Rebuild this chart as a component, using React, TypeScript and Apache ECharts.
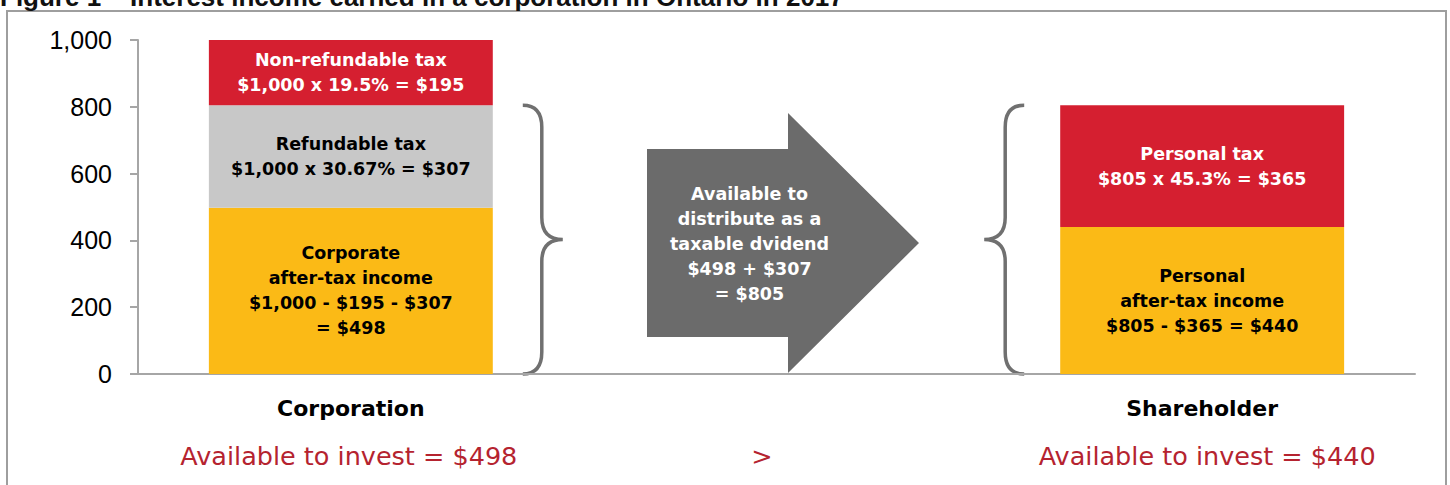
import React, { useEffect, useRef } from "react";
import * as echarts from "echarts";

const title = "Figure 1 – Interest income earned in a corporation in Ontario in 2017";
const categories = ["Corporation", "", "Shareholder"];
const afterTaxIncome = [498, null, 440];
const refundableTax = [307, null, null];
const incomeTax = [195, null, 365];
const afterTaxLabels = [
  "Corporate\nafter-tax income\n$1,000 - $195 - $307\n= $498",
  "",
  "Personal\nafter-tax income\n$805 - $365 = $440",
];
const refundableLabels = ["Refundable tax\n$1,000 x 30.67% = $307", "", ""];
const taxLabels = [
  "Non-refundable tax\n$1,000 x 19.5% = $195",
  "",
  "Personal tax\n$805 x 45.3% = $365",
];
const yTicks = [0, 200, 400, 600, 800, 1000];
const distributable = 805;
const arrowText = "Available to\ndistribute as a\ntaxable dvidend\n$498 + $307\n= $805";
const investLabels = ["Available to invest = $498", ">", "Available to invest = $440"];

const RED = "#D51F30";
const GRAY = "#C8C8C8";
const YELLOW = "#FBBA16";
const DARKRED = "#B5232F";
const LABEL_FONT = "DejaVu Sans";

function registerBrace(name: string, H: number, w1: number, w2: number, r: number) {
  const h = H / 2;
  const d = `M0,0 Q${w1},0 ${w1},${r} L${w1},${h - r} Q${w1},${h} ${w2},${h} Q${w1},${h} ${w1},${h + r} L${w1},${H - r} Q${w1},${H} 0,${H}`;
  echarts.graphic.registerShape(name, echarts.graphic.extendPath(d, {}));
}

export default function App() {
  const ref = useRef<HTMLDivElement>(null);
  useEffect(() => {
    document.body.style.margin = "0";
    const chart = echarts.init(ref.current!, undefined, { renderer: "svg" });
    const labelBase = {
      show: true,
      position: "inside",
      fontFamily: LABEL_FONT,
      fontWeight: "bold",
      fontSize: 17.5,
      lineHeight: 25,
    };
    chart.setOption({
      animation: false,
      backgroundColor: "#fff",
      grid: { left: 138, right: 35, top: 40, bottom: 111, containLabel: false, outerBoundsMode: "none" },
      xAxis: {
        type: "category",
        data: categories,
        axisLine: { show: true, lineStyle: { color: "#A6A6A6", width: 2 } },
        axisTick: { show: false },
        axisLabel: {
          color: "#000",
          fontFamily: LABEL_FONT,
          fontWeight: "bold",
          fontSize: 22,
          margin: 23,
        },
      },
      yAxis: {
        type: "value",
        min: yTicks[0],
        max: yTicks[yTicks.length - 1],
        interval: yTicks[1] - yTicks[0],
        axisLine: { show: true, lineStyle: { color: "#A6A6A6", width: 2 } },
        axisTick: { show: true, length: 8, lineStyle: { color: "#A6A6A6", width: 2 } },
        splitLine: { show: false },
        axisLabel: {
          color: "#000",
          fontFamily: "Liberation Sans",
          fontSize: 25,
          margin: 26,
          formatter: (v: number) => v.toLocaleString("en-US"),
        },
      },
      series: [
        {
          name: "After-tax income",
          type: "bar",
          stack: "total",
          barWidth: "66.7%",
          data: afterTaxIncome,
          itemStyle: { color: YELLOW },
          label: { ...labelBase, color: "#000", formatter: (p: any) => afterTaxLabels[p.dataIndex] },
        },
        {
          name: "Refundable tax",
          type: "bar",
          stack: "total",
          barWidth: "66.7%",
          data: refundableTax,
          itemStyle: { color: GRAY },
          label: { ...labelBase, color: "#000", formatter: (p: any) => refundableLabels[p.dataIndex] },
        },
        {
          name: "Tax",
          type: "bar",
          stack: "total",
          barWidth: "66.7%",
          data: incomeTax,
          itemStyle: { color: RED },
          label: { ...labelBase, color: "#fff", formatter: (p: any) => taxLabels[p.dataIndex] },
        },
      ],
    });

    const yTop = chart.convertToPixel({ yAxisIndex: 0 }, distributable) as number;
    const yZero = chart.convertToPixel({ yAxisIndex: 0 }, 0) as number;
    const xs = categories.map((c, i) => chart.convertToPixel({ xAxisIndex: 0 }, i) as number);
    const band = xs[1] - xs[0];
    const half = (band * 0.667) / 2;
    const H = yZero - yTop;
    registerBrace("braceShape", H, 19, 40, 22);

    const arrowCx = xs[1];
    chart.setOption({
      graphic: [
        {
          type: "rect",
          shape: { x: 7, y: 11, width: 1439, height: 500 },
          style: { fill: "none", stroke: "#9E9E9E", lineWidth: 2 },
          silent: true,
        },
        {
          type: "text",
          x: 0,
          y: -2.6,
          style: {
            text: title,
            fill: "#111",
            font: "bold 26px 'Liberation Sans'",
            align: "left",
            verticalAlign: "middle",
          },
        },
        {
          type: "braceShape",
          x: xs[0] + half + 30,
          y: yTop,
          style: { fill: "none", stroke: "#707070", lineWidth: 3.5 },
        },
        {
          type: "braceShape",
          x: xs[2] - half - 36,
          y: yTop,
          scaleX: -1,
          style: { fill: "none", stroke: "#707070", lineWidth: 3.5 },
        },
        {
          type: "polygon",
          shape: {
            points: [
              [647, 149],
              [788, 149],
              [788, 113],
              [919, 243],
              [788, 373],
              [788, 337],
              [647, 337],
            ],
          },
          style: { fill: "#6B6B6B" },
        },
        {
          type: "text",
          x: arrowCx - 27,
          y: 244,
          style: {
            text: arrowText,
            fill: "#fff",
            font: `bold 17.5px '${LABEL_FONT}'`,
            lineHeight: 25,
            align: "center",
            verticalAlign: "middle",
          },
        },
        ...investLabels.map((t, i) => ({
          type: "text",
          x: i === 1 ? 762 : xs[i] + (i === 0 ? -2 : 5),
          y: 456,
          style: {
            text: t,
            fill: DARKRED,
            font: `25.5px '${LABEL_FONT}'`,
            align: "center",
            verticalAlign: "middle",
          },
        })),
      ],
    });
    return () => chart.dispose();
  }, []);
  return (
    <div
      ref={ref}
      style={{ position: "absolute", left: 0, top: 0, width: 1450, height: 485 }}
    />
  );
}
